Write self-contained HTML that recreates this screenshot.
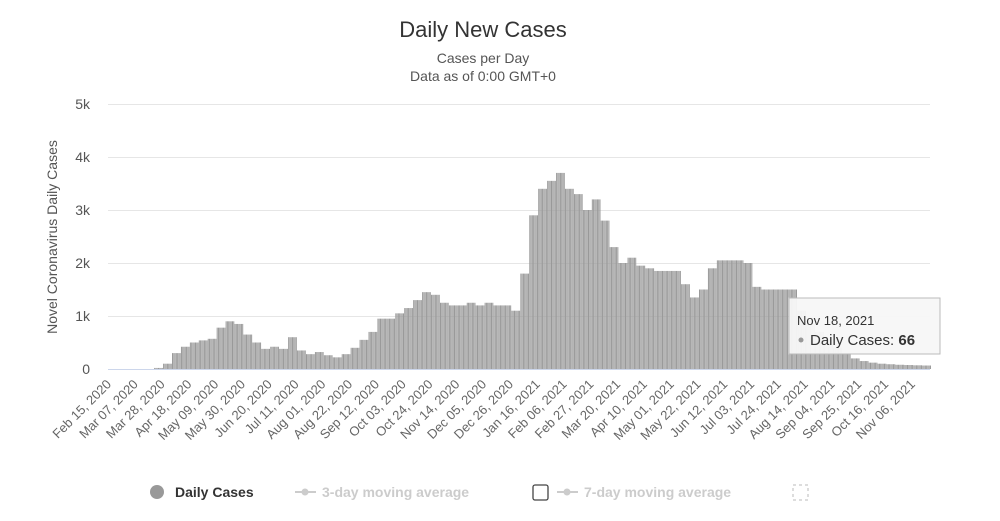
<!DOCTYPE html>
<html><head><meta charset="utf-8"><style>
body{margin:0;background:#fff;font-family:"Liberation Sans",sans-serif}
svg{display:block}
</style></head><body>
<svg width="1000" height="521" viewBox="0 0 1000 521">
<text x="483" y="37" text-anchor="middle" font-size="22" fill="#333">Daily New Cases</text>
<text x="483" y="63" text-anchor="middle" font-size="14" fill="#555">Cases per Day</text>
<text x="483" y="81" text-anchor="middle" font-size="14" fill="#555">Data as of 0:00 GMT+0</text>
<g id="grid"></g>
<g id="bars"></g>
<line x1="108" y1="369.5" x2="930" y2="369.5" stroke="#ccd6eb" stroke-width="1"/>
<g id="xlabels"></g>
<text transform="translate(57,237) rotate(-90)" text-anchor="middle" font-size="14" fill="#555">Novel Coronavirus Daily Cases</text>
<g>
<g>
<circle cx="157" cy="492" r="7" fill="#999"/>
<text x="175" y="497" font-size="14" font-weight="bold" fill="#333">Daily Cases</text></g>
<g>
<line x1="295" y1="492" x2="316" y2="492" stroke="#ccc" stroke-width="2"/><circle cx="305" cy="492" r="3.5" fill="#ccc"/>
<text x="322" y="497" font-size="14" font-weight="bold" fill="#ccc">3-day moving average</text></g>
<rect x="533" y="485" width="15" height="15" rx="2" fill="#fff" stroke="#444" stroke-width="1.3"/>
<g>
<line x1="557" y1="492" x2="578" y2="492" stroke="#ccc" stroke-width="2"/><circle cx="567" cy="492" r="3.5" fill="#ccc"/>
<text x="584" y="497" font-size="14" font-weight="bold" fill="#ccc">7-day moving average</text></g>
<rect x="793" y="485" width="15" height="15" fill="none" stroke="#bbb" stroke-dasharray="3,3"/>
</g>
<g>
<rect x="789" y="298" width="151" height="56" fill="#f7f7f7" fill-opacity="0.95" stroke="#bbb" stroke-width="1"/>
<text x="797" y="325" font-size="13" fill="#333">Nov 18, 2021</text>
<circle cx="801" cy="340" r="2.5" fill="#999"/>
<text x="810" y="345" font-size="15" fill="#333">Daily Cases: <tspan font-weight="bold">66</tspan></text>
</g>
</svg>
<script>
const yTicks=[0,1000,2000,3000,4000,5000];
const yTickLabels=["0","1k","2k","3k","4k","5k"];
const xTickLabels=["Feb 15, 2020","Mar 07, 2020","Mar 28, 2020","Apr 18, 2020","May 09, 2020","May 30, 2020","Jun 20, 2020","Jul 11, 2020","Aug 01, 2020","Aug 22, 2020","Sep 12, 2020","Oct 03, 2020","Oct 24, 2020","Nov 14, 2020","Dec 05, 2020","Dec 26, 2020","Jan 16, 2021","Feb 06, 2021","Feb 27, 2021","Mar 20, 2021","Apr 10, 2021","May 01, 2021","May 22, 2021","Jun 12, 2021","Jul 03, 2021","Jul 24, 2021","Aug 14, 2021","Sep 04, 2021","Sep 25, 2021","Oct 16, 2021","Nov 06, 2021"];
const xTickDays=[0,21,42,63,84,105,126,147,168,189,210,231,252,273,294,315,336,357,378,399,420,441,462,483,504,525,546,567,588,609,630];
// weekly daily-case levels starting Feb 15, 2020
const weeklyCases=[0,0,0,0,0,20,100,300,420,500,540,570,780,900,850,650,500,380,420,380,600,350,280,320,260,220,280,400,550,700,950,950,1050,1150,1300,1450,1400,1250,1200,1200,1250,1200,1250,1200,1200,1100,1800,2900,3400,3550,3700,3400,3300,3000,3200,2800,2300,2000,2100,1950,1900,1850,1850,1850,1600,1350,1500,1900,2050,2050,2050,2000,1550,1500,1500,1500,1500,1100,850,700,550,400,300,200,150,120,100,90,80,75,70,66];
const NS="http://www.w3.org/2000/svg";
const xDay=d=>110+d*1.276;
const yVal=v=>369-v*0.053;
const grid=document.getElementById('grid');
yTicks.forEach((t,i)=>{
 const l=document.createElementNS(NS,'line');
 
 
 l.setAttribute('x1',108);l.setAttribute('x2',930);
 l.setAttribute('y1',yVal(t)+0.5);l.setAttribute('y2',yVal(t)+0.5);
 l.setAttribute('stroke','#e6e6e6');grid.appendChild(l);
 const tx=document.createElementNS(NS,'text');
 
 
 tx.setAttribute('x',90);tx.setAttribute('y',yVal(t)+5);
 tx.setAttribute('text-anchor','end');tx.setAttribute('font-size','14');tx.setAttribute('fill','#555');
 tx.textContent=yTickLabels[i];grid.appendChild(tx);
});
const bars=document.getElementById('bars');
weeklyCases.forEach((v,w)=>{
 for(let k=0;k<7;k++){
  const d=w*7+k;
  if(v<=0)continue;
  const r=document.createElementNS(NS,'rect');
  
  
  r.setAttribute('x',xDay(d)-0.5);r.setAttribute('width',1.0);
  r.setAttribute('y',yVal(v));r.setAttribute('height',369-yVal(v));
  r.setAttribute('fill','#999');bars.appendChild(r);
 }
});
const xl=document.getElementById('xlabels');
xTickLabels.forEach((s,i)=>{
 const t=document.createElementNS(NS,'text');
 
 
 const x=xDay(xTickDays[i])+2,y=385;
 t.setAttribute('transform','translate('+x+','+y+') rotate(-45)');
 t.setAttribute('text-anchor','end');t.setAttribute('font-size','13');t.setAttribute('fill','#666');
 t.textContent=s;xl.appendChild(t);
});
</script>
</body></html>
